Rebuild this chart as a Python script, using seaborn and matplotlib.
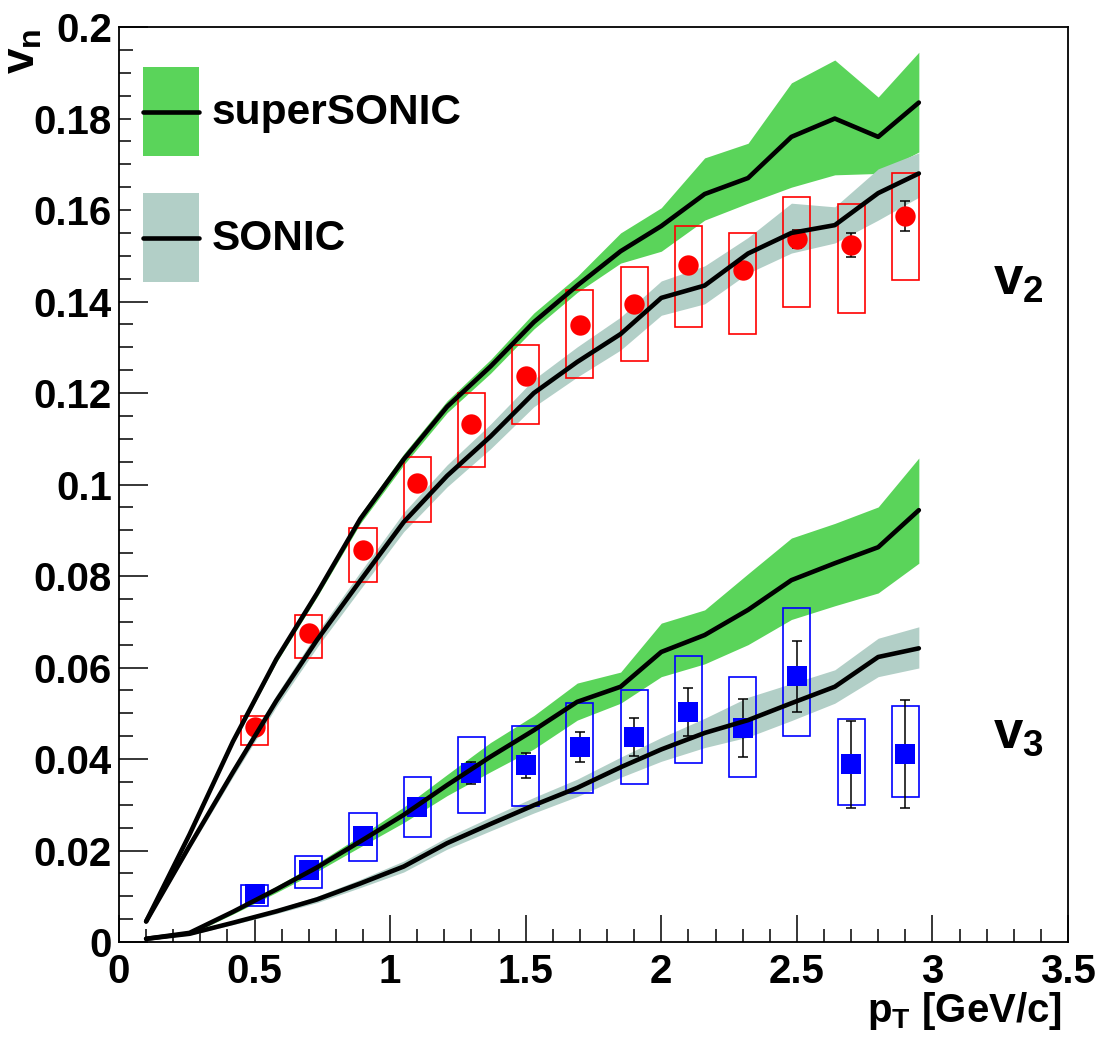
import numpy as np
import matplotlib
matplotlib.use("Agg")
import matplotlib.pyplot as plt
import seaborn as sns
from matplotlib.patches import Patch, Rectangle
from matplotlib.lines import Line2D
from matplotlib.legend_handler import HandlerBase
from matplotlib.ticker import MultipleLocator, FuncFormatter

# ---------------- data ----------------
# model curves (superSONIC / SONIC)
pt_model = [0.10, 0.26, 0.42, 0.58, 0.73, 0.89, 1.05, 1.21, 1.37, 1.53,
            1.69, 1.85, 2.00, 2.16, 2.32, 2.48, 2.64, 2.80, 2.95]

ss_v2 = [0.0045, 0.0235, 0.0438, 0.0618, 0.0762, 0.0925, 0.1055, 0.1170, 0.1258, 0.1355,
         0.1435, 0.1510, 0.1565, 0.1635, 0.1670, 0.1760, 0.1800, 0.1760, 0.1835]
ss_v2_lo = [0.0042, 0.0230, 0.0433, 0.0611, 0.0754, 0.0915, 0.1043, 0.1157, 0.1243, 0.1340,
            0.1420, 0.1484, 0.1510, 0.1578, 0.1615, 0.1650, 0.1677, 0.1680, 0.1727]
ss_v2_hi = [0.0048, 0.0240, 0.0443, 0.0625, 0.0770, 0.0935, 0.1067, 0.1183, 0.1273, 0.1375,
            0.1455, 0.1550, 0.1605, 0.1714, 0.1746, 0.1878, 0.1928, 0.1847, 0.1945]

s_v2 = [0.0045, 0.0210, 0.0371, 0.0527, 0.0660, 0.0790, 0.0918, 0.1019, 0.1105, 0.1200,
        0.1268, 0.1329, 0.1408, 0.1435, 0.1505, 0.1550, 0.1567, 0.1637, 0.1680]
s_v2_lo = [0.0042, 0.0203, 0.0361, 0.0514, 0.0644, 0.0771, 0.0897, 0.0995, 0.1078, 0.1170,
           0.1235, 0.1294, 0.1370, 0.1395, 0.1462, 0.1506, 0.1528, 0.1578, 0.1628]
s_v2_hi = [0.0048, 0.0217, 0.0381, 0.0540, 0.0676, 0.0809, 0.0939, 0.1043, 0.1132, 0.1230,
           0.1301, 0.1366, 0.1445, 0.1478, 0.1540, 0.1615, 0.1607, 0.1690, 0.1725]

ss_v3 = [0.0007, 0.0020, 0.0066, 0.0115, 0.0163, 0.0220, 0.0278, 0.0343, 0.0405, 0.0463,
         0.0525, 0.0558, 0.0634, 0.0671, 0.0726, 0.0791, 0.0828, 0.0863, 0.0944]
ss_v3_lo = [0.0005, 0.0016, 0.0061, 0.0108, 0.0154, 0.0208, 0.0261, 0.0320, 0.0372, 0.0422,
            0.0485, 0.0522, 0.0580, 0.0608, 0.0650, 0.0705, 0.0735, 0.0763, 0.0828]
ss_v3_hi = [0.0009, 0.0024, 0.0071, 0.0122, 0.0172, 0.0232, 0.0295, 0.0366, 0.0436, 0.0495,
            0.0566, 0.0590, 0.0697, 0.0726, 0.0805, 0.0883, 0.0915, 0.0951, 0.1058]

s_v3 = [0.0007, 0.0018, 0.0042, 0.0067, 0.0093, 0.0128, 0.0165, 0.0216, 0.0258, 0.0299,
        0.0337, 0.0382, 0.0421, 0.0457, 0.0485, 0.0522, 0.0558, 0.0623, 0.0642]
s_v3_lo = [0.0005, 0.0015, 0.0038, 0.0062, 0.0086, 0.0119, 0.0153, 0.0203, 0.0243, 0.0282,
           0.0318, 0.0360, 0.0395, 0.0425, 0.0448, 0.0484, 0.0522, 0.0580, 0.0599]
s_v3_hi = [0.0009, 0.0021, 0.0046, 0.0072, 0.0100, 0.0137, 0.0177, 0.0229, 0.0273, 0.0316,
           0.0356, 0.0404, 0.0447, 0.0489, 0.0535, 0.0565, 0.0595, 0.0664, 0.0689]

# measured data
pt_data = [0.5, 0.7, 0.9, 1.1, 1.3, 1.5, 1.7, 1.9, 2.1, 2.3, 2.5, 2.7, 2.9]

v2 = [0.0470, 0.0675, 0.0856, 0.1003, 0.1133, 0.1237, 0.1349, 0.1394, 0.1480, 0.1468, 0.1536, 0.1523, 0.1587]
v2_stat = [0.0008, 0.0010, 0.0010, 0.0010, 0.0010, 0.0010, 0.0012, 0.0013, 0.0015, 0.0017, 0.0020, 0.0026, 0.0032]
v2_sys_lo = [0.0430, 0.0621, 0.0787, 0.0918, 0.1038, 0.1132, 0.1233, 0.1270, 0.1344, 0.1329, 0.1388, 0.1375, 0.1447]
v2_sys_hi = [0.0494, 0.0715, 0.0905, 0.1060, 0.1200, 0.1305, 0.1425, 0.1475, 0.1565, 0.1550, 0.1628, 0.1613, 0.1680]

v3 = [0.0104, 0.0157, 0.0232, 0.0295, 0.0369, 0.0386, 0.0426, 0.0448, 0.0503, 0.0468, 0.0581, 0.0389, 0.0411]
v3_stat = [0.0005, 0.0007, 0.0010, 0.0012, 0.0024, 0.0027, 0.0033, 0.0042, 0.0052, 0.0063, 0.0078, 0.0095, 0.0118]
v3_sys_lo = [0.0079, 0.0118, 0.0177, 0.0230, 0.0282, 0.0297, 0.0326, 0.0345, 0.0391, 0.0360, 0.0450, 0.0300, 0.0317]
v3_sys_hi = [0.0125, 0.0188, 0.0282, 0.0360, 0.0448, 0.0472, 0.0522, 0.0551, 0.0625, 0.0580, 0.0730, 0.0487, 0.0516]

x_ticks = [0, 0.5, 1, 1.5, 2, 2.5, 3, 3.5]
y_ticks = [0, 0.02, 0.04, 0.06, 0.08, 0.1, 0.12, 0.14, 0.16, 0.18, 0.2]
legend_labels = ["superSONIC", "SONIC"]

# ---------------- style ----------------
sns.set_style("ticks")
plt.rcParams["font.family"] = ["Liberation Sans", "DejaVu Sans"]
plt.rcParams["font.weight"] = "bold"
plt.rcParams["mathtext.fontset"] = "custom"
plt.rcParams["mathtext.rm"] = "Liberation Sans:bold"
plt.rcParams["mathtext.it"] = "Liberation Sans:bold"
plt.rcParams["mathtext.bf"] = "Liberation Sans:bold"
plt.rcParams["axes.linewidth"] = 1.3
for k in ("text.color", "axes.labelcolor", "xtick.color", "ytick.color",
          "axes.edgecolor", "xtick.labelcolor", "ytick.labelcolor"):
    plt.rcParams[k] = "black"

GREEN = "#5ad45a"
GREY = "#b2cfc7"

fig = plt.figure(figsize=(11.01, 10.37), dpi=100)
ax = fig.add_axes([0.1081, 0.0916, 0.8619, 0.8823])

# model bands
ax.fill_between(pt_model, ss_v2_lo, ss_v2_hi, color=GREEN, lw=0, zorder=1)
ax.fill_between(pt_model, ss_v3_lo, ss_v3_hi, color=GREEN, lw=0, zorder=1)
ax.fill_between(pt_model, s_v2_lo, s_v2_hi, color=GREY, lw=0, zorder=1.1)
ax.fill_between(pt_model, s_v3_lo, s_v3_hi, color=GREY, lw=0, zorder=1.1)

# systematic boxes
ax.bar(pt_data, np.array(v2_sys_hi) - np.array(v2_sys_lo), bottom=v2_sys_lo, width=0.1,
       fill=False, edgecolor="#ff0000", linewidth=1.2, zorder=2.5)
ax.bar(pt_data, np.array(v3_sys_hi) - np.array(v3_sys_lo), bottom=v3_sys_lo, width=0.1,
       fill=False, edgecolor="#0000ff", linewidth=1.2, zorder=2.5)

# statistical errors
ax.errorbar(pt_data, v2, yerr=v2_stat, fmt="none", ecolor="black", elinewidth=1.1,
            capsize=3.3, capthick=1.1, zorder=3)
ax.errorbar(pt_data, v3, yerr=v3_stat, fmt="none", ecolor="black", elinewidth=1.1,
            capsize=3.3, capthick=1.1, zorder=3)

# data markers
sns.scatterplot(x=pt_data, y=v2, marker="o", s=215, color="#ff0000", linewidth=0, ax=ax, zorder=3.5)
sns.scatterplot(x=pt_data, y=v3, marker="s", s=207, color="#0000ff", linewidth=0, ax=ax, zorder=3.5)

# model lines
for yy in (ss_v2, s_v2, ss_v3, s_v3):
    sns.lineplot(x=pt_model, y=yy, color="black", lw=3.3, estimator=None, sort=False,
                 ax=ax, zorder=4)

ax.set_xlim(0, 3.5)
ax.set_ylim(0, 0.2)
ax.set_xticks(x_ticks)
ax.set_yticks(y_ticks)
ax.xaxis.set_minor_locator(MultipleLocator(0.1))
ax.yaxis.set_minor_locator(MultipleLocator(0.005))
fmt = FuncFormatter(lambda v, p: f"{v:g}")
ax.xaxis.set_major_formatter(fmt)
ax.yaxis.set_major_formatter(fmt)
ax.tick_params(axis="both", which="both", direction="in", top=False, right=False,
               width=1.1, labelsize=29, colors="black")
ax.tick_params(axis="x", which="major", length=19.5, pad=8)
ax.tick_params(axis="x", which="minor", length=9.5)
ax.tick_params(axis="y", which="major", length=21, pad=5)
ax.tick_params(axis="y", which="minor", length=10)
for s in ax.spines.values():
    s.set_visible(True)
    s.set_linewidth(1.3)
    s.set_color("black")
ax.set_xlabel("")
ax.set_ylabel("")

# axis titles
ax.text(0.9937, -0.0874, r"p$_{T}$ [GeV/c]", transform=ax.transAxes, ha="right",
        va="baseline", fontsize=29, fontweight="bold", color="black")
ax.text(-0.0895, 0.9989, r"v$_{n}$", transform=ax.transAxes, rotation=90,
        rotation_mode="anchor", ha="right", va="baseline", fontsize=33, fontweight="bold",
        color="black")

# harmonic labels
ax.text(3.225, 0.1415, r"v$_{2}$", ha="left", va="baseline", fontsize=38, fontweight="bold",
        color="black")
ax.text(3.225, 0.0425, r"v$_{3}$", ha="left", va="baseline", fontsize=38, fontweight="bold",
        color="black")


# legend: band with a line through its centre
class BandLineHandler(HandlerBase):
    def create_artists(self, legend, orig_handle, xdescent, ydescent, width, height,
                       fontsize, trans):
        rect = Rectangle((-xdescent, -ydescent), width, height,
                         facecolor=orig_handle.get_facecolor(), edgecolor="none",
                         transform=trans)
        yc = -ydescent + height / 2.0
        line = Line2D([-xdescent, -xdescent + width], [yc, yc], color="black",
                      lw=3.3, transform=trans)
        return [rect, line]


handles = [Patch(facecolor=GREEN), Patch(facecolor=GREY)]
leg = ax.legend(handles, legend_labels, handler_map={Patch: BandLineHandler()},
                loc="upper left", bbox_to_anchor=(0.0126, 0.9694), borderaxespad=0,
                borderpad=0.283, handlelength=1.32, handleheight=2.855, labelspacing=0.873,
                handletextpad=0.307, fontsize=30.5, frameon=True, fancybox=False,
                framealpha=1, facecolor="white", edgecolor="white")
leg.get_frame().set_linewidth(0)
for t in leg.get_texts():
    t.set_fontweight("bold")
    t.set_color("black")

fig.savefig("out.png", dpi=100)
